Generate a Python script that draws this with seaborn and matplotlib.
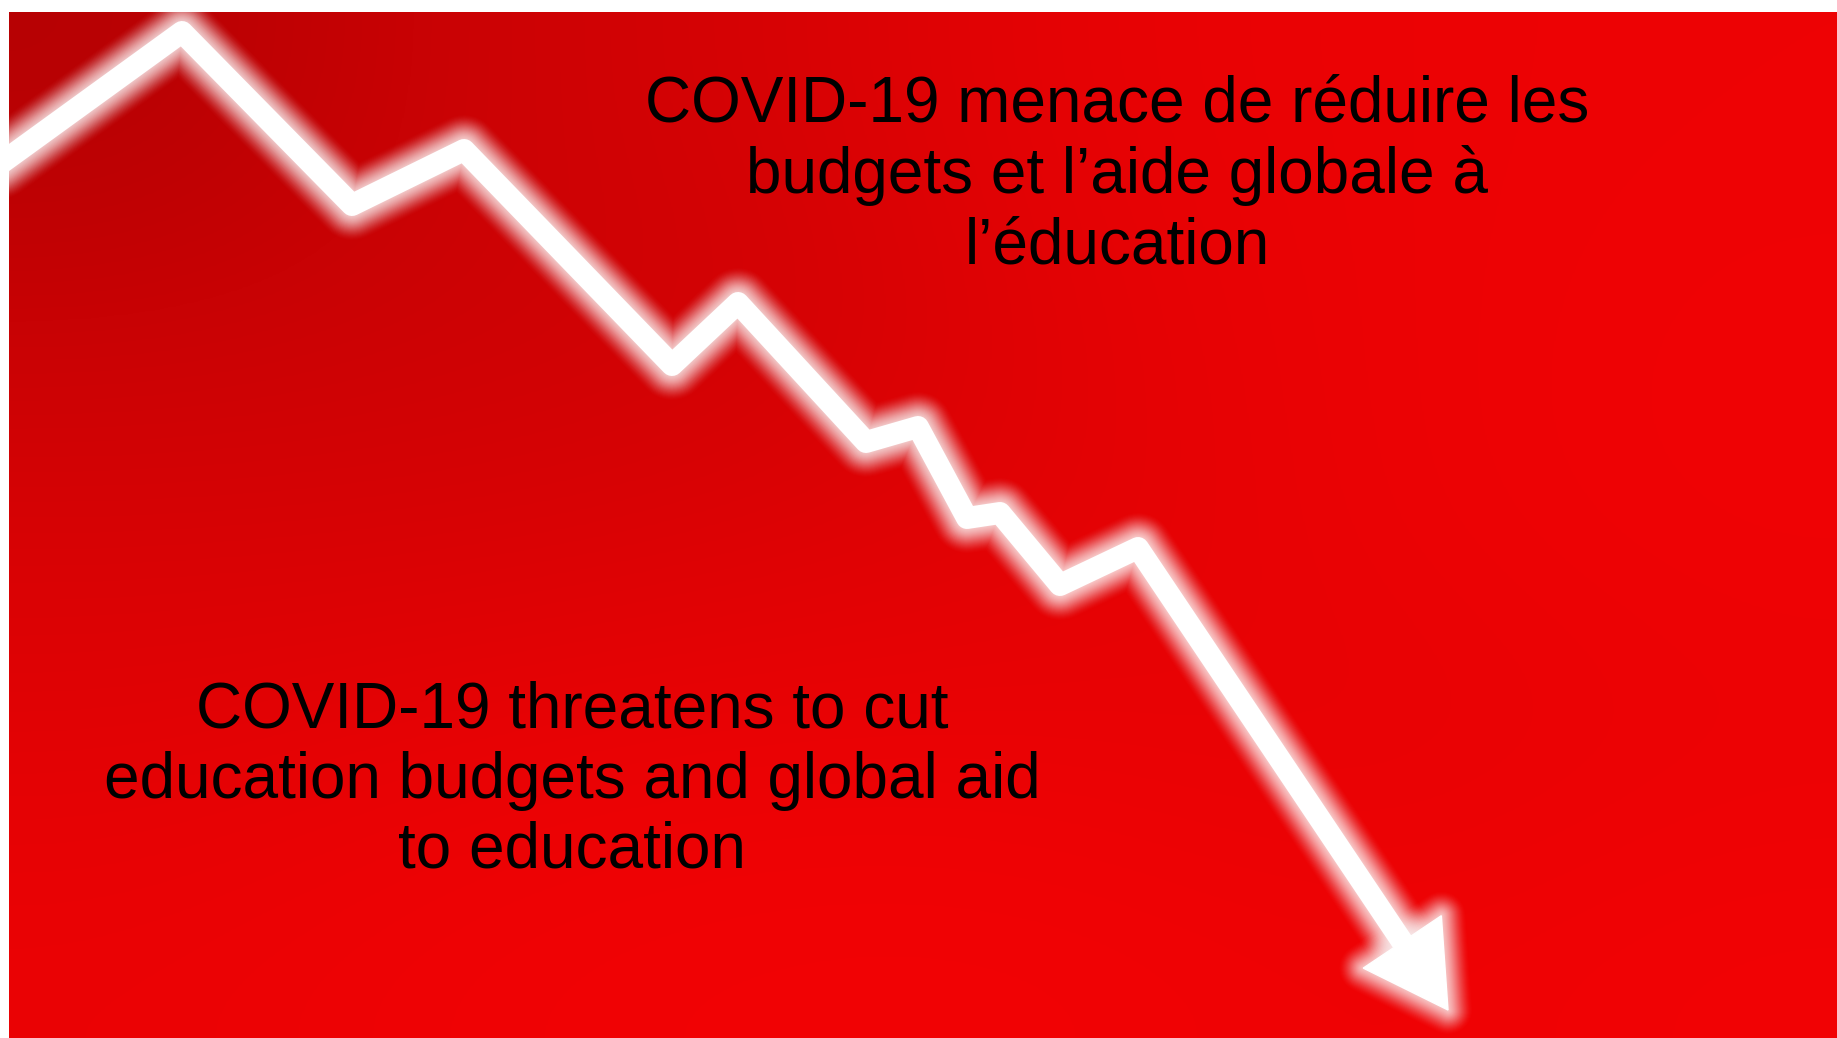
import seaborn as sns
import matplotlib.pyplot as plt
import matplotlib.patches as mpatches
import pandas as pd
import numpy as np

# Falling index line (x position, level)
line_x = [0, 182, 352, 464, 672, 738, 866, 918, 967, 1000, 1060, 1138, 1448]
line_y = [874, 1006, 833, 888, 673, 735, 596, 611, 520, 525, 453, 490, 28]

text_fr = "COVID-19 menace de réduire les\nbudgets et l\u2019aide globale à\nl\u2019éducation"
text_en = "COVID-19 threatens to cut\neducation budgets and global aid\nto education"

# Red backdrop shades (rows top -> bottom, columns left -> right)
bg_red = [
    [182, 205, 214, 232, 236, 238],
    [200, 205, 208, 228, 236, 240],
    [215, 215, 220, 226, 236, 240],
    [226, 232, 235, 234, 230, 236],
    [235, 240, 242, 242, 238, 242],
]

sns.set_style("white")
plt.rcParams['font.family'] = ['Liberation Sans', 'DejaVu Sans']

W, H = 1837, 1038
fig = plt.figure(figsize=(W / 100, H / 100), dpi=100, facecolor="white")
ax = fig.add_axes([9 / W, 0, (W - 9) / W, (H - 12) / H])
ax.set_xlim(9, W)
ax.set_ylim(0, H - 12)
ax.set_axis_off()

# backdrop
red = np.array(bg_red, dtype=float) / 255
bg = np.dstack([red, red * 0.01, red * 0.02])
ax.imshow(bg, extent=(9, W, 0, H - 12), aspect="auto",
          interpolation="bicubic", zorder=0)

# arrow head geometry from the last segment
tip = np.array([line_x[-1], line_y[-1]], dtype=float)
prev = np.array([line_x[-2], line_y[-2]], dtype=float)
u = (tip - prev) / np.linalg.norm(tip - prev)
n = np.array([-u[1], u[0]])
head_len, head_w = 82, 94
base = tip - head_len * u
head = np.array([tip, base + n * head_w / 2, base - n * head_w / 2])

df = pd.DataFrame({"x": line_x[:-1] + [base[0] + 10 * u[0]],
                   "y": line_y[:-1] + [base[1] + 10 * u[1]]})

px = 0.72  # points per pixel at 100 dpi
core = 22
outer = 70

# soft glow, fading outwards
for w in range(outer, core + 1, -2):
    a = 0.015 + 0.11 * (outer - w) / (outer - core)
    sns.lineplot(data=df, x="x", y="y", ax=ax, color="#fff2f2", linewidth=w * px,
                 alpha=a, sort=False, solid_capstyle="round",
                 solid_joinstyle="round", zorder=2)
    ax.add_patch(mpatches.Polygon(head, closed=True, facecolor="#fff2f2",
                                  edgecolor="#fff2f2", linewidth=(w - core) * px,
                                  alpha=a, joinstyle="round", zorder=2))

sns.lineplot(data=df, x="x", y="y", ax=ax, color="white", linewidth=core * px,
             sort=False, solid_capstyle="round", solid_joinstyle="round", zorder=3)
ax.add_patch(mpatches.Polygon(head, closed=True, facecolor="white",
                              edgecolor="white", linewidth=1, zorder=3))

# captions
ax.text(1117, H - 263, text_fr, ha="center", va="baseline", fontsize=46,
        color="black", linespacing=1.22, zorder=4)
ax.text(572, H - 868, text_en, ha="center", va="baseline", fontsize=46,
        color="black", linespacing=1.22, zorder=4)

ax.set_xlabel("")
ax.set_ylabel("")
fig.savefig("out.png", dpi=100, facecolor="white")
plt.close(fig)
